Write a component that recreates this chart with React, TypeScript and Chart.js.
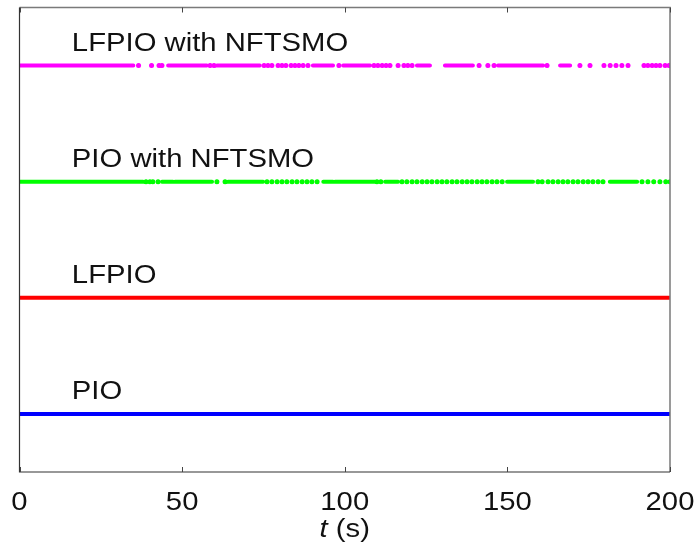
import React, { useEffect, useRef } from "react";
import { Chart, registerables } from "chart.js";

Chart.register(...registerables);

// Time axis
const xTicks = [0, 50, 100, 150, 200];
const xTitle = "(s)";

// Series names (bottom to top) and their levels
const seriesNames = ["PIO", "LFPIO", "PIO with NFTSMO", "LFPIO with NFTSMO"];
const seriesLevels = [1, 2, 3, 4];
const seriesColors = ["#0000ff", "#ff0000", "#00ff00", "#ff00ff"];

// Runs of active time [start, end] (s); single dots have start == end
const pioRuns = [[0, 200]];
const lfpioRuns = [[0, 200]];
const pioNftsmoRuns = [
  [0, 38.0], [38.9, 38.9], [40.1, 40.1], [41.0, 41.0], [42.6, 42.6],
  [43.8, 47.2], [47.8, 59.2], [60.7, 60.7], [63.2, 63.2], [64.1, 74.9],
  [76.1, 76.1], [77.6, 77.6], [79.2, 79.2], [80.7, 80.7], [82.2, 82.2],
  [83.8, 83.8], [85.3, 85.3], [86.9, 86.9], [88.4, 88.4], [89.9, 89.9],
  [91.5, 91.5], [93.4, 96.4], [97.0, 109.3], [109.9, 109.9], [111.1, 111.1],
  [112.4, 116.4], [117.6, 117.6], [119.1, 119.1], [120.7, 120.7], [122.2, 122.2],
  [123.8, 123.8], [125.3, 125.3], [126.8, 126.8], [128.4, 128.4], [129.9, 129.9],
  [131.4, 131.4], [133.0, 133.0], [134.5, 134.5], [136.1, 136.1], [137.6, 137.6],
  [139.1, 139.1], [140.7, 140.7], [142.2, 142.2], [143.7, 143.7], [145.3, 145.3],
  [146.8, 146.8], [148.4, 148.4], [149.9, 157.9], [159.4, 159.4], [160.7, 160.7],
  [162.5, 162.5], [164.0, 164.0], [165.6, 165.6], [167.1, 167.1], [168.6, 168.6],
  [170.2, 170.2], [171.7, 171.7], [173.3, 173.3], [174.8, 174.8], [176.3, 176.3],
  [177.9, 177.9], [179.4, 179.4], [181.5, 189.9], [191.4, 191.4], [193.2, 193.2],
  [195.0, 195.0], [196.9, 196.9], [198.7, 198.7], [200, 200],
];
const lfpioNftsmoRuns = [
  [0, 35.0], [36.6, 36.6], [40.6, 40.6], [42.9, 42.9], [43.8, 43.8],
  [45.7, 57.6], [58.6, 58.6], [59.8, 59.8], [60.7, 73.9], [75.2, 75.2],
  [76.4, 76.4], [77.6, 77.6], [79.5, 79.5], [80.7, 80.7], [81.9, 81.9],
  [83.5, 83.5], [84.7, 84.7], [85.9, 85.9], [87.2, 87.2], [88.7, 88.7],
  [90.2, 96.4], [98.2, 98.2], [99.5, 107.8], [109.0, 109.0], [110.2, 110.2],
  [111.5, 111.5], [112.7, 112.7], [113.9, 113.9], [116.4, 116.4], [118.2, 118.2],
  [119.4, 119.4], [120.7, 120.7], [122.2, 126.2], [130.8, 139.4], [141.3, 141.3],
  [144.0, 144.0], [145.9, 145.9], [147.1, 161.0], [162.2, 162.2], [166.2, 169.3],
  [172.3, 172.3], [175.4, 175.4], [179.7, 179.7], [181.6, 181.6], [183.4, 183.4],
  [185.2, 185.2], [187.1, 187.1], [192.0, 192.0], [193.2, 193.2], [194.5, 194.5],
  [195.7, 195.7], [196.9, 196.9], [198.5, 198.5], [199.7, 199.7],
];
const seriesRuns = [pioRuns, lfpioRuns, pioNftsmoRuns, lfpioNftsmoRuns];

const FONT = '"Liberation Sans", Arial, Helvetica, sans-serif';
const STRETCH = 1.17;

function buildData(runs: number[][], level: number) {
  const pts: { x: number; y: number | null; dot?: boolean }[] = [];
  runs.forEach((r) => {
    if (r[1] !== r[0]) {
      pts.push({ x: r[0], y: level });
      pts.push({ x: r[1], y: level });
    } else {
      pts.push({ x: r[0], y: level, dot: true });
    }
    pts.push({ x: r[1], y: null });
  });
  return pts;
}

function drawStretched(ctx: CanvasRenderingContext2D, text: string, x: number, y: number, align: CanvasTextAlign) {
  ctx.save();
  ctx.translate(x, y);
  ctx.scale(STRETCH, 1);
  ctx.textAlign = align;
  ctx.fillText(text, 0, 0);
  ctx.restore();
}

const decorPlugin = {
  id: "decor",
  afterDatasetsDraw(chart: any) {
    const ctx: CanvasRenderingContext2D = chart.ctx;
    const xs = chart.scales.x;
    const ys = chart.scales.y;
    const { left, right, top, bottom } = chart.chartArea;
    ctx.save();
    // frame
    ctx.strokeStyle = "#7a7a7a";
    ctx.lineWidth = 1.5;
    ctx.beginPath();
    ctx.moveTo(left, top);
    ctx.lineTo(right, top);
    ctx.lineTo(right, bottom);
    ctx.stroke();
    ctx.strokeStyle = "#333333";
    ctx.lineWidth = 1.2;
    ctx.beginPath();
    ctx.moveTo(left, top);
    ctx.lineTo(left, bottom);
    ctx.lineTo(right, bottom);
    ctx.stroke();
    // inward ticks top & bottom
    ctx.strokeStyle = "#444444";
    ctx.lineWidth = 1;
    xTicks.forEach((v) => {
      const px = Math.round(xs.getPixelForValue(v)) + 0.5;
      ctx.beginPath();
      ctx.moveTo(px, bottom);
      ctx.lineTo(px, bottom - 5);
      ctx.moveTo(px, top);
      ctx.lineTo(px, top + 5);
      ctx.stroke();
    });
    // tick labels
    ctx.fillStyle = "#111";
    ctx.font = `25px ${FONT}`;
    ctx.textBaseline = "alphabetic";
    xTicks.forEach((v) => {
      drawStretched(ctx, String(v), xs.getPixelForValue(v), bottom + 38, "center");
    });
    // axis title: italic t + (s)
    const cx = (left + right) / 2;
    ctx.font = `italic 25px ${FONT}`;
    const wT = ctx.measureText("t ").width;
    ctx.font = `25px ${FONT}`;
    const wS = ctx.measureText(xTitle).width;
    const total = (wT + wS) * STRETCH;
    const x0 = cx - total / 2;
    const by = bottom + 65;
    ctx.font = `italic 25px ${FONT}`;
    drawStretched(ctx, "t", x0, by, "left");
    ctx.font = `25px ${FONT}`;
    drawStretched(ctx, xTitle, x0 + wT * STRETCH, by, "left");
    // series labels
    const labelX = xs.getPixelForValue(16.1);
    seriesNames.forEach((name, i) => {
      const py = ys.getPixelForValue(seriesLevels[i]) - 15;
      drawStretched(ctx, name, labelX, py, "left");
    });
    ctx.restore();
  },
};

export default function App() {
  const ref = useRef<HTMLCanvasElement | null>(null);
  useEffect(() => {
    if (!ref.current) return;
    const chart = new Chart(ref.current, {
      type: "line",
      data: {
        datasets: seriesNames.map((name, i) => ({
          label: name,
          data: buildData(seriesRuns[i], seriesLevels[i]),
          borderColor: seriesColors[i],
          backgroundColor: seriesColors[i],
          borderWidth: 4,
          pointRadius: (c: any) => (c.raw && c.raw.dot ? 2.5 : 0),
          pointBorderWidth: 0,
          pointHoverRadius: 0,
          spanGaps: false,
          tension: 0,
          borderCapStyle: "round" as const,
        })),
      },
      options: {
        animation: false,
        responsive: false,
        devicePixelRatio: 1,
        layout: { padding: { left: 19.5, right: 27, top: 7.5, bottom: 75 } },
        plugins: { legend: { display: false }, tooltip: { enabled: false } },
        scales: {
          x: { type: "linear", min: 0, max: 200, display: false },
          y: { type: "linear", min: 0.5, max: 4.5, display: false },
        },
      },
      plugins: [decorPlugin],
    });
    return () => chart.destroy();
  }, []);
  return (
    <div style={{ position: "fixed", left: 0, top: 0, width: 697, height: 547, background: "#fff" }}>
      <canvas ref={ref} width={697} height={547} style={{ width: 697, height: 547 }} />
    </div>
  );
}
